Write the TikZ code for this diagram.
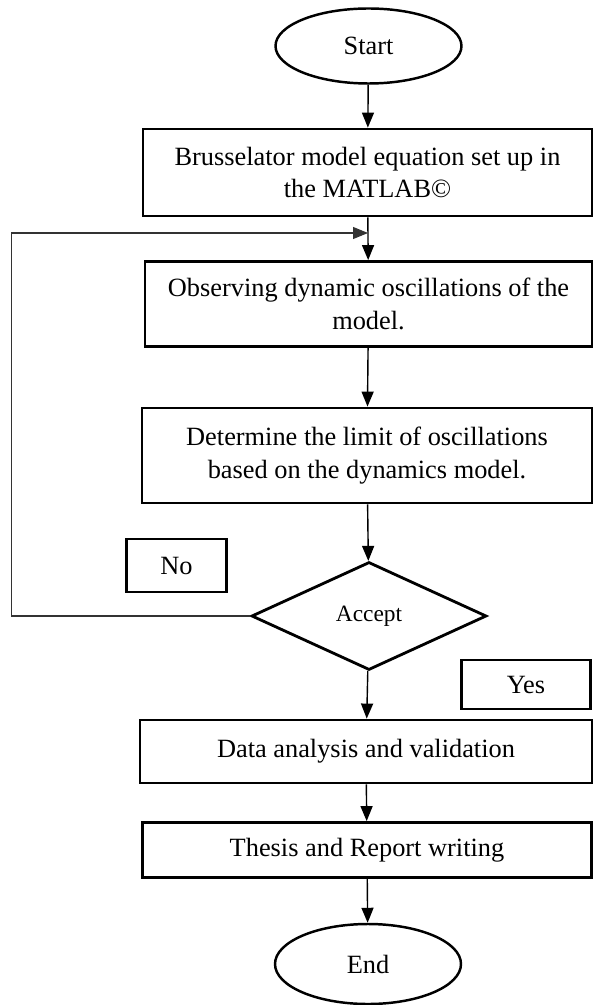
\documentclass[tikz,border=0pt]{standalone}
\usepackage{fontspec}
\setmainfont{Liberation Serif}
\usetikzlibrary{shapes.geometric,arrows.meta}

\begin{document}
\begin{tikzpicture}[
        box/.style={draw, line width=1.6pt, align=center, inner sep=0pt, font=\fontsize{15}{18.6}\selectfont},
        terminal/.style={ellipse, draw, line width=1.4pt, inner sep=0pt, font=\fontsize{15}{18.6}\selectfont},
        decision/.style={diamond, draw, line width=1.6pt, inner sep=0pt, font=\fontsize{13.3}{16}\selectfont},
        flow/.style={-{Triangle[width=0.24cm,length=0.3cm]}, line width=0.8pt},
    ]
            % Frame
            \useasboundingbox (0,0) rectangle (11.86,-20.1);

            % Start and end
            \node[terminal, minimum width=3.72cm, minimum height=1.5cm] (start) at (7.37,-0.92) {Start};
            \node[terminal, minimum width=3.72cm, minimum height=1.6cm] (end) at (7.36,-19.28) {End};

            % Process boxes
            \node[box, minimum width=8.98cm, minimum height=1.74cm] (setup) at (7.35,-3.45)
                {Brusselator model equation set up in\\ the MATLAB©};
            \node[box, minimum width=8.94cm, minimum height=1.7cm] (observe) at (7.37,-6.08)
                {Observing dynamic oscillations of the\\ model.};
            \node[box, minimum width=9cm, minimum height=1.9cm] (limit) at (7.34,-9.11)
                {Determine the limit of oscillations\\ based on the dynamics model.};
            \node[box, minimum width=9.04cm, minimum height=1.26cm] (data) at (7.32,-15.03)
                {Data analysis and validation};
            \node[box, minimum width=8.99cm, minimum height=1.1cm] (thesis) at (7.34,-17.0)
                {Thesis and Report writing};

            % Decision and its labels
            \node[decision, minimum width=4.7cm, minimum height=2.16cm] (accept) at (7.38,-12.32) {Accept};
            \node[box, minimum width=2.01cm, minimum height=1.06cm] (no) at (3.53,-11.31) {No};
            \node[box, minimum width=2.57cm, minimum height=0.98cm] (yes) at (10.52,-13.69) {Yes};

            % Main flow
            \draw[flow] (start) -- (setup);
            \draw[flow] (setup) -- (observe);
            \draw[flow] (observe) -- (limit);
            \draw[flow] (limit) -- (accept);
            \draw[flow] (accept) -- (data);
            \draw[flow] (data) -- (thesis);
            \draw[flow] (thesis) -- (end);

            % Loop back when not accepted
            \coordinate (back) at (0.234,-4.66);
            \coordinate (join) at (7.36,-4.66);
            \draw[flow, line width=0.6pt, black!80] (accept.west) -| (back) -- (join);
        \end{tikzpicture}
\end{document}
